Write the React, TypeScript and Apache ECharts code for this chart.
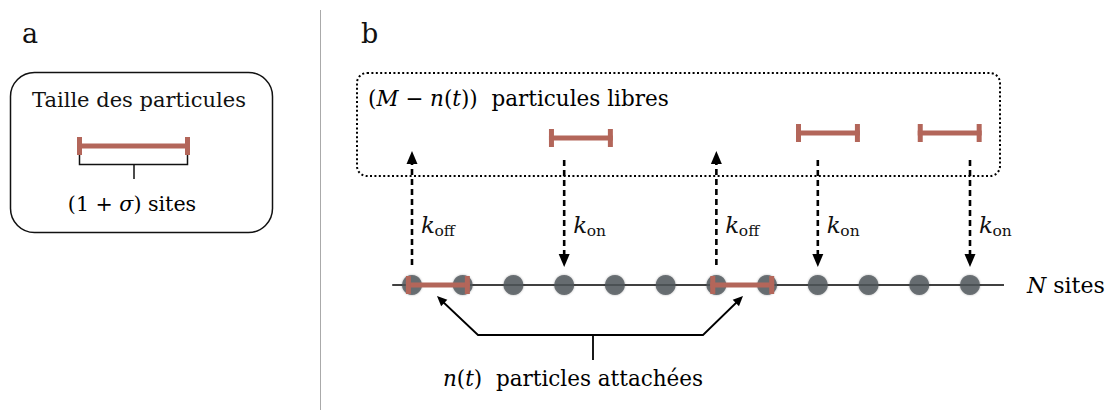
import React, { useEffect, useRef } from "react";
import * as echarts from "echarts";

// ---- Diagram data (positions along the lattice are in "site" units) ----
const siteIndices = [0, 1, 2, 3, 4, 5, 6, 7, 8, 9, 10, 11];
const attachedParticleStarts = [0, 6]; // each attached particle covers sites s, s+1
const freeParticleCenters = [3.33, 8.2, 10.6];
const freeParticleLevels = [138, 133, 133];
const offRateSites = [0, 6]; // k_off transitions (detachment)
const onRateSites = [3, 8, 11]; // k_on transitions (attachment)
const particleLength = 1.26; // (1 + sigma) in site units

const RED = "#b3665a";
const SITE = "#4f555b";
const INK = "#111111";
const SERIF = "DejaVu Serif";
const LATTICE_Y = 285;

const richB = {
  m: { fontFamily: SERIF, fontSize: 21.5, color: INK },
  i: { fontFamily: SERIF, fontSize: 21.5, fontStyle: "italic", color: INK },
};
const richA = {
  m: { fontFamily: SERIF, fontSize: 20.6, color: INK },
  i: { fontFamily: SERIF, fontSize: 20.6, fontStyle: "italic", color: INK },
};
const richN = {
  m: { fontFamily: SERIF, fontSize: 22, color: INK },
  i: { fontFamily: SERIF, fontSize: 22, fontStyle: "italic", color: INK },
};

function particleRender(params: any, api: any) {
  const c = api.value(0);
  const lvl = api.value(1);
  const [x0, y] = api.coord([c - particleLength / 2, lvl]);
  const [x1] = api.coord([c + particleLength / 2, lvl]);
  return {
    type: "group",
    children: [
      { type: "rect", shape: { x: x0, y: y - 2.5, width: x1 - x0, height: 5 }, style: { fill: RED } },
      { type: "rect", shape: { x: x0, y: y - 9, width: 5, height: 18 }, style: { fill: RED } },
      { type: "rect", shape: { x: x1 - 5, y: y - 9, width: 5, height: 18 }, style: { fill: RED } },
    ],
  };
}

function arrowRender(dir: "up" | "down") {
  return (params: any, api: any) => {
    const site = api.value(0);
    const x = api.coord([site, 0])[0];
    const Y = (v: number) => api.coord([site, v])[1];
    const dash = { stroke: "#000", lineWidth: 2.6, lineDash: [6, 4], fill: "none" };
    const children: any[] = [];
    if (dir === "up") {
      children.push(
        { type: "line", shape: { x1: x, y1: Y(265), x2: x, y2: Y(163) }, style: dash },
        { type: "polygon", shape: { points: [[x, Y(151)], [x - 5.5, Y(164)], [x + 5.5, Y(164)]] }, style: { fill: "#000" } }
      );
    } else {
      children.push(
        { type: "line", shape: { x1: x, y1: Y(160), x2: x, y2: Y(255) }, style: dash },
        { type: "polygon", shape: { points: [[x, Y(267)], [x - 5.5, Y(254)], [x + 5.5, Y(254)]] }, style: { fill: "#000" } }
      );
    }
    children.push(
      {
        type: "text",
        x: x + 9,
        y: Y(225),
        style: { text: "k", fontFamily: SERIF, fontSize: 23, fontStyle: "italic", fill: INK, align: "left", verticalAlign: "middle" },
      },
      {
        type: "text",
        x: x + 22.5,
        y: Y(231),
        style: { text: dir === "up" ? "off" : "on", fontFamily: SERIF, fontSize: 15.5, fill: INK, align: "left", verticalAlign: "middle" },
      }
    );
    return { type: "group", children };
  };
}

function arrowHead(tip: number[], from: number[]) {
  const dx = tip[0] - from[0];
  const dy = tip[1] - from[1];
  const L = Math.hypot(dx, dy);
  const ux = dx / L;
  const uy = dy / L;
  const bx = tip[0] - ux * 10;
  const by = tip[1] - uy * 10;
  const px = -uy * 4.5;
  const py = ux * 4.5;
  return [tip, [bx + px, by + py], [bx - px, by - py]];
}

export default function App() {
  const ref = useRef<HTMLDivElement>(null);

  useEffect(() => {
    if (!ref.current) return;
    const chart = echarts.init(ref.current, undefined, { renderer: "svg" });

    const minX = -412 / 50.727;
    const maxX = minX + 1116 / 50.727;

    const option: any = {
      animation: false,
      backgroundColor: "#ffffff",
      grid: { left: 0, right: 0, top: 0, bottom: 0, containLabel: false },
      xAxis: { type: "value", min: minX, max: maxX, show: false },
      yAxis: { type: "value", min: 0, max: 412, inverse: true, show: false },
      graphic: [
        // divider
        { type: "line", shape: { x1: 320.5, y1: 10, x2: 320.5, y2: 410 }, style: { stroke: "#aaaaaa", lineWidth: 1 }, silent: true },
        // panel letters
        { type: "text", x: 22, y: 33, style: { text: "a", fontFamily: SERIF, fontSize: 27, fill: INK, verticalAlign: "middle" } },
        { type: "text", x: 361, y: 33, style: { text: "b", fontFamily: SERIF, fontSize: 27, fill: INK, verticalAlign: "middle" } },
        // panel a box
        { type: "rect", shape: { x: 10.5, y: 72.5, width: 262, height: 160, r: 24 }, style: { fill: "none", stroke: INK, lineWidth: 1.5 } },
        { type: "text", x: 139, y: 100, style: { text: "Taille des particules", fontFamily: SERIF, fontSize: 21, fill: INK, align: "center", verticalAlign: "middle" } },
        // panel a particle
        { type: "rect", shape: { x: 77, y: 143.5, width: 113, height: 5 }, style: { fill: RED } },
        { type: "rect", shape: { x: 77, y: 137, width: 5, height: 18 }, style: { fill: RED } },
        { type: "rect", shape: { x: 185, y: 137, width: 5, height: 18 }, style: { fill: RED } },
        // bracket
        { type: "polyline", shape: { points: [[79.5, 155], [79.5, 164.5], [187.5, 164.5], [187.5, 155]] }, style: { stroke: INK, lineWidth: 1.5, fill: "none" } },
        { type: "line", shape: { x1: 134, y1: 164.5, x2: 134, y2: 179 }, style: { stroke: INK, lineWidth: 1.5 } },
        {
          type: "text",
          x: 132,
          y: 204,
          style: {
            text: "{m|(1 + }{i|σ}{m|) sites}",
            rich: richA,
            align: "center",
            verticalAlign: "middle",
          },
        },
        // panel b box of free particles
        { type: "rect", shape: { x: 357, y: 73, width: 643, height: 103, r: 10 }, style: { fill: "none", stroke: "#000", lineWidth: 2, lineDash: [2, 2.4] } },
        {
          type: "text",
          x: 368,
          y: 98,
          style: {
            text: "{m|(}{i|M}{m| − }{i|n}{m|(}{i|t}{m|))  particules libres}",
            rich: richB,
            align: "left",
            verticalAlign: "middle",
          },
        },
        {
          type: "text",
          x: 1027,
          y: 285,
          style: { text: "{i|N}{m| sites}", rich: richN, align: "left", verticalAlign: "middle" },
        },
        // attached-particles bracket
        { type: "polyline", shape: { points: [[441, 300], [478, 335], [703, 335], [739, 300]] }, style: { stroke: "#000", lineWidth: 1.8, fill: "none" } },
        { type: "polygon", shape: { points: arrowHead([437, 296], [478, 335]) }, style: { fill: "#000" } },
        { type: "polygon", shape: { points: arrowHead([743, 296], [703, 335]) }, style: { fill: "#000" } },
        { type: "line", shape: { x1: 593, y1: 335, x2: 593, y2: 360 }, style: { stroke: "#000", lineWidth: 1.8 } },
        {
          type: "text",
          x: 443,
          y: 378,
          style: {
            text: "{i|n}{m|(}{i|t}{m|)  particles attachées}",
            rich: richB,
            align: "left",
            verticalAlign: "middle",
          },
        },
      ],
      series: [
        {
          type: "line",
          data: [[-0.39, LATTICE_Y], [11.67, LATTICE_Y]],
          symbol: "none",
          lineStyle: { color: "#000", width: 1.6 },
          silent: true,
          z: 1,
        },
        {
          type: "scatter",
          data: siteIndices.map((s) => [s, LATTICE_Y]),
          symbol: "circle",
          symbolSize: 20,
          itemStyle: { color: SITE, shadowBlur: 2, shadowColor: "rgba(0,0,0,0.35)" },
          silent: true,
          z: 2,
        },
        {
          type: "custom",
          data: attachedParticleStarts.map((s) => [s + 0.51, LATTICE_Y]),
          renderItem: particleRender,
          silent: true,
          z: 3,
        },
        {
          type: "custom",
          data: freeParticleCenters.map((c, i) => [c, freeParticleLevels[i]]),
          renderItem: particleRender,
          silent: true,
          z: 3,
        },
        {
          type: "custom",
          data: offRateSites.map((s) => [s, LATTICE_Y]),
          renderItem: arrowRender("up"),
          silent: true,
          z: 4,
        },
        {
          type: "custom",
          data: onRateSites.map((s) => [s, LATTICE_Y]),
          renderItem: arrowRender("down"),
          silent: true,
          z: 4,
        },
      ],
    };

    chart.setOption(option);
    return () => chart.dispose();
  }, []);

  return (
    <div
      ref={ref}
      style={{ position: "fixed", left: 0, top: 0, width: 1116, height: 412, background: "#fff" }}
    />
  );
}
